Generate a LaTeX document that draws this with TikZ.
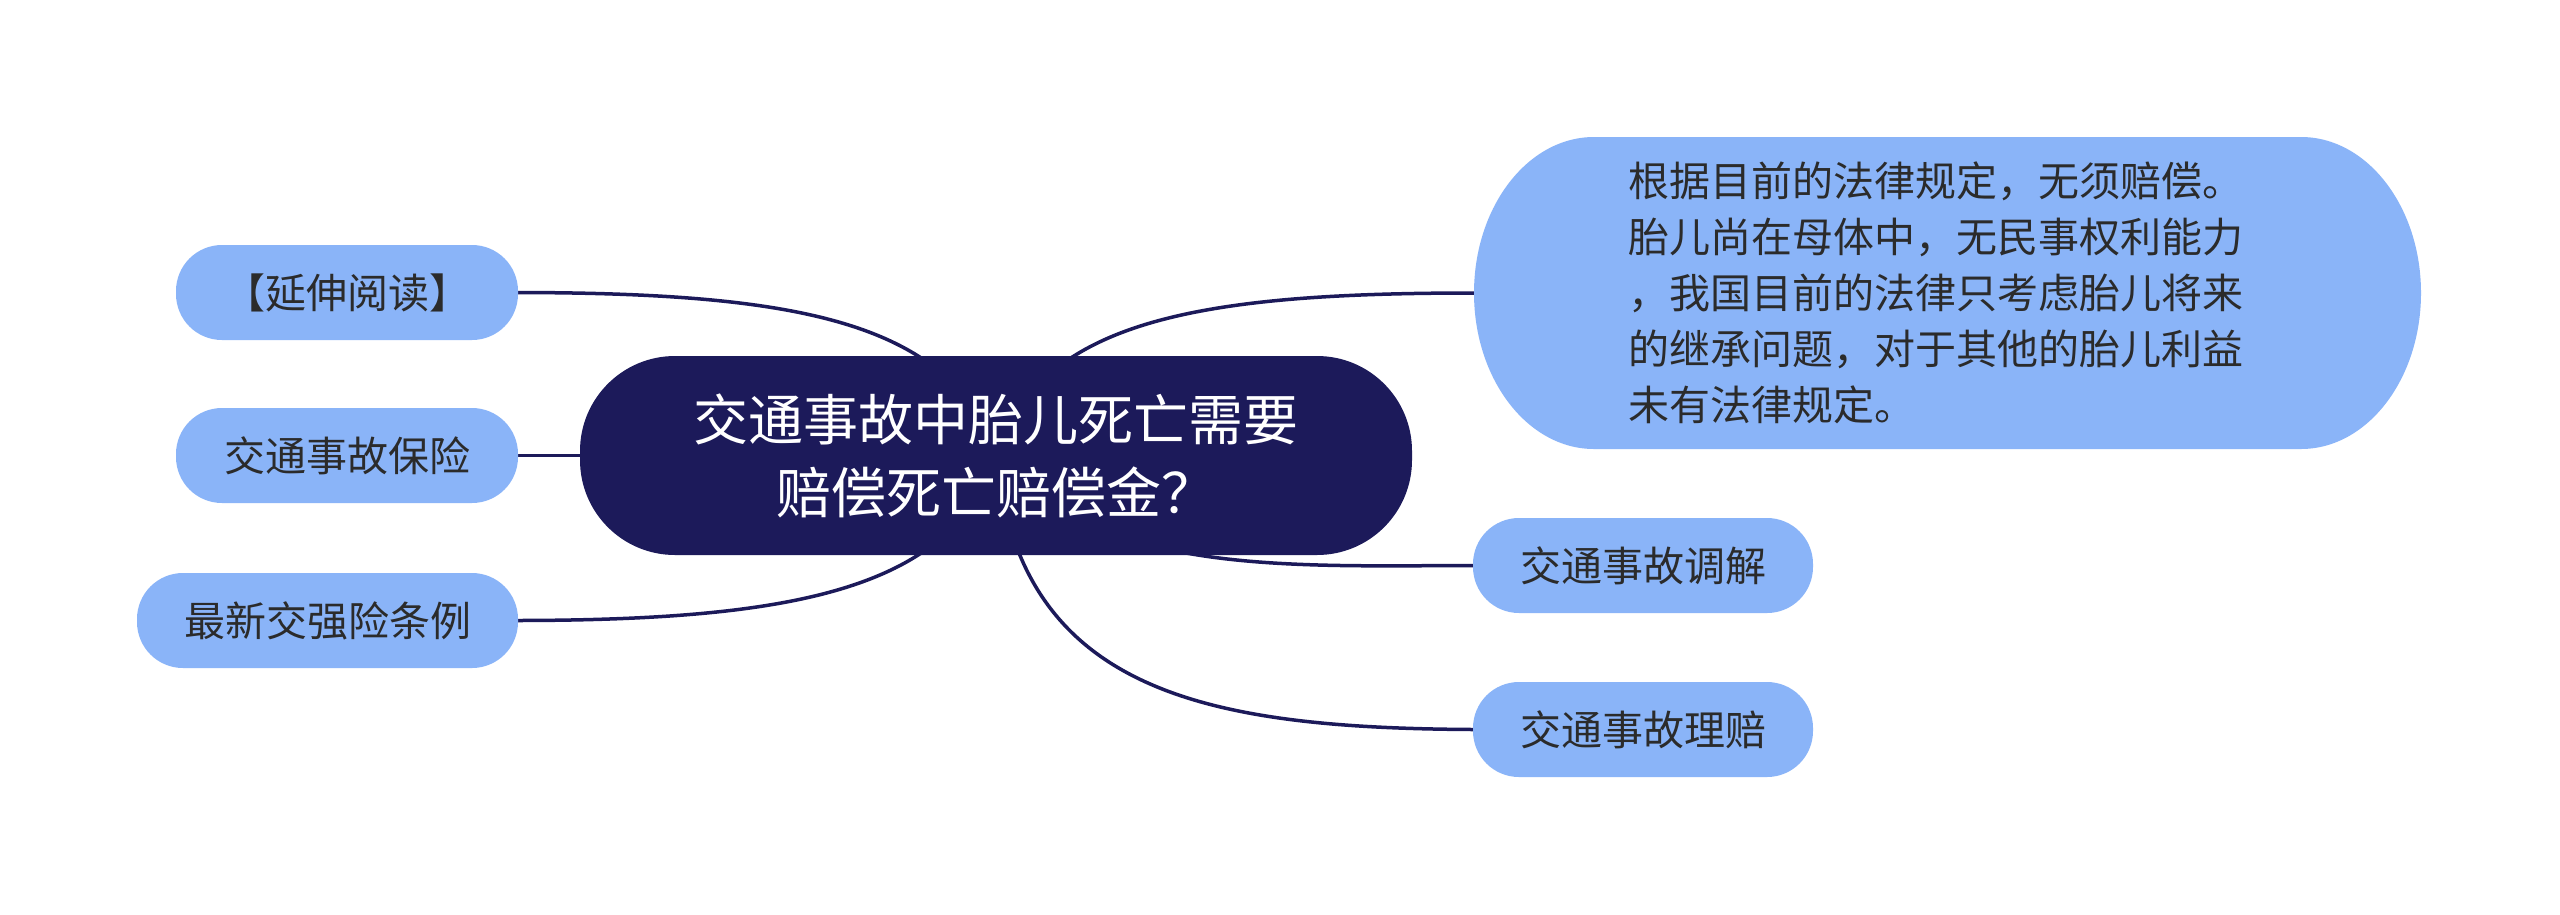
\documentclass[tikz,border=0pt]{standalone}
\usepackage{fontspec}
\setmainfont{Noto Sans CJK SC}
\usetikzlibrary{backgrounds}
\definecolor{navy}{HTML}{1C1A5A}
\definecolor{lblue}{HTML}{8AB4F8}
\definecolor{txt}{HTML}{2B2B2B}
\begin{document}
\begin{tikzpicture}[x=1pt,y=-1pt,
  conn/.style={draw=navy, line width=3.5pt},
  leaf/.style={fill=lblue, text=txt, rounded corners=46pt, minimum height=95pt, inner sep=0pt, font=\fontsize{41}{50}\selectfont},
  root/.style={fill=navy, text=white, rounded corners=95pt, minimum width=832pt, minimum height=199pt, inner sep=0pt, align=center, font=\fontsize{55}{73}\selectfont},
  bigleaf/.style={text=txt, minimum width=947pt, minimum height=312pt, inner sep=0pt, align=left, text width=639pt, font=\fontsize{41}{56}\selectfont}]
\useasboundingbox (0,0) rectangle (2560,914);
\node[root] (c) at (996,455.5) {交通事故中胎儿死亡需要\\赔偿死亡赔偿金？};
\node[leaf, minimum width=342pt] (read) at (347,292.5) {【延伸阅读】};
\node[leaf, minimum width=342pt] (ins) at (347,455.5) {交通事故保险};
\node[leaf, minimum width=381pt] (reg) at (327.5,620.5) {最新交强险条例};
\node[leaf, minimum width=340pt] (med) at (1643,565.5) {交通事故调解};
\node[leaf, minimum width=340pt] (clm) at (1643,729.5) {交通事故理赔};
\node[bigleaf] (big) at (1947.5,293) {根据目前的法律规定，无须赔偿。\\胎儿尚在母体中，无民事权利能力\\，我国目前的法律只考虑胎儿将来\\的继承问题，对于其他的胎儿利益\\未有法律规定。};
\begin{scope}[on background layer]
\fill[white] (0,0) rectangle (2560,914);
\draw[conn] (c.center) .. controls (952,320) and (792,293) .. (read.east);
\draw[conn] (c.center) -- (ins.east);
\draw[conn] (c.center) .. controls (952,590) and (792,620) .. (reg.east);
\draw[conn] (c.center) .. controls (1040,320) and (1200,293) .. (big.west);
\draw[conn] (c.center) .. controls (1100,575) and (1280,566) .. (med.west);
\draw[conn] (c.center) .. controls (1020,690) and (1200,728) .. (clm.west);
\fill[lblue] (1594,137) -- (2301,137) .. controls (2367.3,137) and (2421,206.8) .. (2421,293)
  .. controls (2421,379.2) and (2367.3,449) .. (2301,449) -- (1594,449)
  .. controls (1527.7,449) and (1474,379.2) .. (1474,293)
  .. controls (1474,206.8) and (1527.7,137) .. (1594,137) -- cycle;
\end{scope}
\end{tikzpicture}
\end{document}
